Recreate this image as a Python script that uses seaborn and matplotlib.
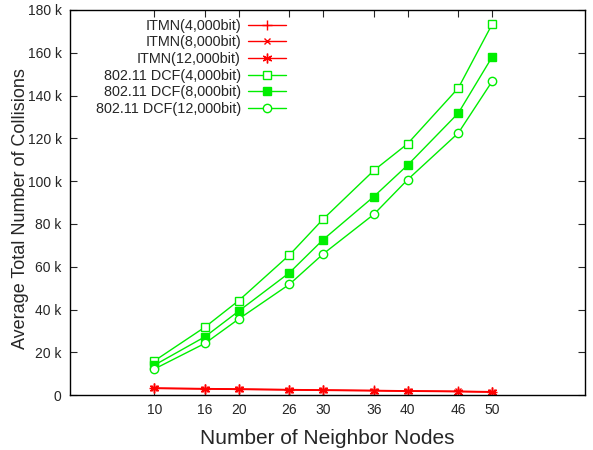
import matplotlib
matplotlib.use("Agg")
import matplotlib.pyplot as plt
import seaborn as sns
import pandas as pd

nodes = [10, 16, 20, 26, 30, 36, 40, 46, 50]
itmn_4000 = [3300, 3050, 2850, 2600, 2400, 2200, 2000, 1800, 1600]
itmn_8000 = [3200, 2950, 2750, 2500, 2300, 2100, 1900, 1700, 1500]
itmn_12000 = [3100, 2850, 2650, 2400, 2200, 2000, 1800, 1600, 1400]
dcf_4000 = [16000, 31800, 44200, 65500, 82300, 105000, 117500, 143500, 173300]
dcf_8000 = [14000, 27300, 39300, 57200, 72700, 92800, 107500, 131800, 158000]
dcf_12000 = [12200, 24200, 35600, 51800, 66000, 84500, 100700, 122500, 146600]

labels = ["ITMN(4,000bit)", "ITMN(8,000bit)", "ITMN(12,000bit)",
          "802.11 DCF(4,000bit)", "802.11 DCF(8,000bit)", "802.11 DCF(12,000bit)"]
series = [itmn_4000, itmn_8000, itmn_12000, dcf_4000, dcf_8000, dcf_12000]
yticks = [0, 20000, 40000, 60000, 80000, 100000, 120000, 140000, 160000, 180000]
ytick_labels = ["0", "20 k", "40 k", "60 k", "80 k", "100 k", "120 k", "140 k", "160 k", "180 k"]

sns.set_style("ticks")
plt.rcParams['font.family'] = ['Liberation Sans', 'DejaVu Sans']

fig = plt.figure(figsize=(5.93, 4.5), dpi=100)
ax = fig.add_axes([0.118, 0.122, 0.8685, 0.856])

styles = [
    dict(color="#ff0000", marker="+", mfc="#ff0000", ms=7),
    dict(color="#ff0000", marker="x", mfc="#ff0000", ms=5),
    dict(color="#ff0000", marker=(6, 2, 0), mfc="#ff0000", ms=7),
    dict(color="#00ee00", marker="s", mfc="white", ms=6),
    dict(color="#00ee00", marker="s", mfc="#00ee00", ms=6),
    dict(color="#00ee00", marker="o", mfc="white", ms=6),
]

for lab, vals, st in zip(labels, series, styles):
    df = pd.DataFrame({"x": nodes, "y": vals})
    sns.lineplot(data=df, x="x", y="y", ax=ax, label=lab, color=st["color"],
                 marker=st["marker"], markersize=st["ms"], markerfacecolor=st["mfc"],
                 markeredgecolor=st["color"], markeredgewidth=1.0, linewidth=1.0)

ax.set_xlim(0, 61)
ax.set_ylim(0, 180000)
ax.set_xticks(nodes)
ax.set_xticklabels([str(n) for n in nodes], fontsize=10)
ax.set_yticks(yticks)
ax.set_yticklabels(ytick_labels, fontsize=10)
ax.tick_params(direction="in", top=True, right=True, length=5, width=0.8, pad=6)
for s in ax.spines.values():
    s.set_visible(True)
    s.set_linewidth(1.0)
    s.set_color("black")
ax.set_xlabel("Number of Neighbor Nodes", fontsize=15, labelpad=8)
ax.set_ylabel("Average Total Number of Collisions", fontsize=13)
ax.yaxis.set_label_coords(-0.08, 0.485)

leg = ax.legend(loc="upper right", bbox_to_anchor=(0.419, 0.977), frameon=False,
                markerfirst=False, fontsize=10.4, handlelength=2.6,
                labelspacing=0.18, borderaxespad=0.0, borderpad=0.0,
                handletextpad=0.5)

fig.savefig("out.png", dpi=100)
